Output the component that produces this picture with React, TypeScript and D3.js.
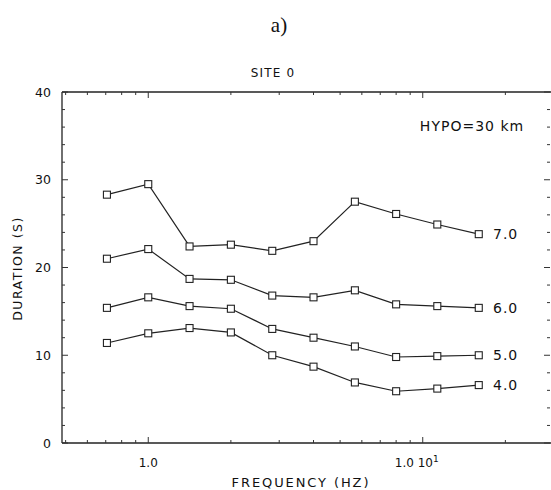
import React from "react";
import * as d3 from "d3";

// frequencies (Hz), half-octave steps
const freqs = [0.707, 1.0, 1.414, 2.0, 2.83, 4.0, 5.66, 8.0, 11.3, 16.0];

const magnitudes = ["7.0", "6.0", "5.0", "4.0"];
const dur70 = [28.3, 29.5, 22.4, 22.6, 21.9, 23.0, 27.5, 26.1, 24.9, 23.8];
const dur60 = [21.0, 22.1, 18.7, 18.6, 16.8, 16.6, 17.4, 15.8, 15.6, 15.4];
const dur50 = [15.4, 16.6, 15.6, 15.3, 13.0, 12.0, 11.0, 9.8, 9.9, 10.0];
const dur40 = [11.4, 12.5, 13.1, 12.6, 10.0, 8.7, 6.9, 5.9, 6.2, 6.6];
const seriesValues = [dur70, dur60, dur50, dur40];

const yTickLabels = [0, 10, 20, 30, 40];

const W = 551;
const H = 490;
const left = 62;
const right = 548;
const top = 92;
const bottom = 443;

const font = "'DejaVu Sans', sans-serif";

export default function App() {
  const x = d3.scaleLog().domain([0.485, 28.6]).range([left, right]);
  const y = d3.scaleLinear().domain([0, 40]).range([bottom, top]);

  const line = d3
    .line<number>()
    .x((_, i) => x(freqs[i]))
    .y((d) => y(d));

  const xMinor = [0.5, 0.6, 0.7, 0.8, 0.9, 1, 2, 3, 4, 5, 6, 7, 8, 9, 10, 20];
  const yMinor = d3.range(0, 41, 2);

  return (
    <svg
      width={W}
      height={H}
      style={{ position: "absolute", left: 0, top: 0, background: "#fff" }}
    >
      <rect width={W} height={H} fill="#fff" />
      <text x={279} y={32} textAnchor="middle" fontFamily="'Liberation Serif', serif" fontSize={21} fill="#111">
        a)
      </text>
      <text x={273} y={77} textAnchor="middle" fontFamily={font} fontSize={12} letterSpacing={1.2} fill="#111">
        SITE 0
      </text>

      {/* frame */}
      <g stroke="#222" strokeWidth={1.3} fill="none">
        <line x1={left} x2={W} y1={top} y2={top} />
        <line x1={left} x2={W} y1={bottom} y2={bottom} />
        <line x1={left} x2={left} y1={top} y2={bottom} />
      </g>

      {/* ticks on all sides */}
      <g stroke="#333" strokeWidth={1}>
        {yMinor.map((v) => {
          const major = v % 10 === 0;
          const len = major ? 6 : 3;
          return (
            <g key={v}>
              <line x1={left} x2={left + len} y1={y(v)} y2={y(v)} />
              <line x1={right - len + 2} x2={right + 2} y1={y(v)} y2={y(v)} />
            </g>
          );
        })}
        {xMinor.map((f) => {
          const major = f === 1 || f === 10;
          const len = major ? 6 : 3;
          return (
            <g key={f}>
              <line x1={x(f)} x2={x(f)} y1={bottom} y2={bottom - len} />
              <line x1={x(f)} x2={x(f)} y1={top} y2={top + len} />
            </g>
          );
        })}
      </g>

      {yTickLabels.map((v) => (
        <text
          key={v}
          x={51}
          y={y(v)}
          dy="0.36em"
          textAnchor="end"
          fontFamily={font}
          fontSize={12.5}
          fill="#111"
        >
          {v}
        </text>
      ))}

      <text x={x(1)} y={467} textAnchor="middle" fontFamily={font} fontSize={12} fill="#111">
        1.0
      </text>
      <text x={x(10) - 6} y={467} textAnchor="middle" fontFamily={font} fontSize={12} fill="#111">
        1.0 10<tspan dy={-5} fontSize={9}>1</tspan>
      </text>

      <text x={301} y={487} textAnchor="middle" fontFamily={font} fontSize={13} letterSpacing={1.9} fill="#111">
        FREQUENCY (HZ)
      </text>
      <text
        transform={`translate(22,${(top + bottom) / 2 + 1}) rotate(-90)`}
        textAnchor="middle"
        fontFamily={font}
        fontSize={12.5}
        letterSpacing={1.5}
        fill="#111"
      >
        DURATION (S)
      </text>

      <text x={472} y={131} textAnchor="middle" fontFamily={font} fontSize={14} letterSpacing={1} fill="#111">
        HYPO=30 km
      </text>

      {seriesValues.map((vals, si) => (
        <g key={si}>
          <path d={line(vals) || ""} fill="none" stroke="#222" strokeWidth={1.2} />
          {vals.map((v, i) => (
            <rect
              key={i}
              x={x(freqs[i]) - 3.5}
              y={y(v) - 3.5}
              width={7}
              height={7}
              fill="#fff"
              stroke="#222"
              strokeWidth={1.1}
            />
          ))}
          <text
            x={493}
            y={y(vals[vals.length - 1])}
            dy="0.36em"
            fontFamily={font}
            fontSize={14}
            letterSpacing={1}
            fill="#111"
          >
            {magnitudes[si]}
          </text>
        </g>
      ))}
    </svg>
  );
}
